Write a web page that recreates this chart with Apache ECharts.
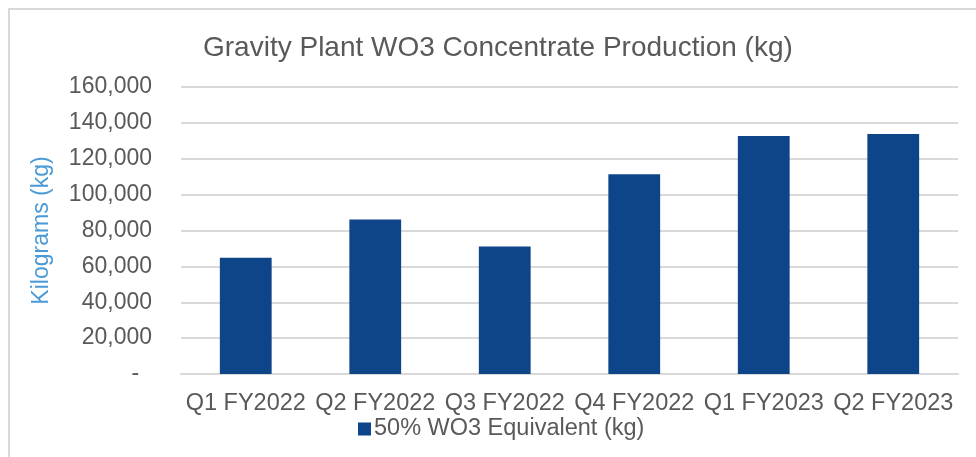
<!DOCTYPE html>
<html>
<head>
<meta charset="utf-8">
<script src="https://cdn.jsdelivr.net/npm/echarts@6/dist/echarts.min.js"></script>
<style>
html, body { margin: 0; padding: 0; background: #fff; }
#main { width: 976px; height: 457px; }
</style>
</head>
<body>
<div id="main"></div>
<script>
// 数据
var quarters = ['Q1 FY2022', 'Q2 FY2022', 'Q3 FY2022', 'Q4 FY2022', 'Q1 FY2023', 'Q2 FY2023'];
var wo3Equivalent = [64800, 86100, 71100, 111400, 132700, 133800];
var seriesName = '50% WO3 Equivalent (kg)';

var myChart = echarts.init(document.getElementById('main'));
var font = "'Liberation Sans', Arial, sans-serif";

var option = {
	animation: false,
	textStyle: { fontFamily: font },
	graphic: [{
		type: 'rect',
		shape: { x: 9, y: 9, width: 990, height: 480 },
		style: { fill: 'none', stroke: '#d9d9d9', lineWidth: 2 }
	}],
	title: {
		text: 'Gravity Plant WO3 Concentrate Production (kg)',
		left: 203,
		top: 34,
		padding: 0,
		textStyle: { fontFamily: font, fontSize: 28, fontWeight: 'normal', color: '#595959' }
	},
	legend: {
		data: [seriesName],
		bottom: 11,
		left: 353,
		icon: 'rect',
		itemWidth: 13,
		itemHeight: 13,
		itemGap: 4,
		textStyle: { fontFamily: font, fontSize: 23.5, color: '#595959', padding: [0, 0, 0, -2] }
	},
	grid: { left: 181, right: 18, top: 87, bottom: 83 },
	xAxis: {
		type: 'category',
		data: quarters,
		axisLine: { lineStyle: { color: '#d9d9d9', width: 2 } },
		axisTick: { show: false },
		axisLabel: { interval: 0, fontFamily: font, fontSize: 23.5, color: '#595959', margin: 18 }
	},
	yAxis: {
		type: 'value',
		min: 0,
		max: 160000,
		interval: 20000,
		name: 'Kilograms (kg)',
		nameLocation: 'middle',
		nameRotate: 90,
		nameGap: 128,
		nameTextStyle: { fontFamily: font, fontSize: 23, color: '#4a9ad6' },
		axisLine: { show: false },
		axisTick: { show: false },
		splitLine: { lineStyle: { color: '#d9d9d9', width: 2 } },
		axisLabel: {
			fontFamily: font,
			fontSize: 23,
			color: '#595959',
			margin: 29,
			formatter: function (v) {
				if (v === 0) return '-  ';
				return v.toLocaleString('en-US');
			}
		}
	},
	series: [{
		name: seriesName,
		type: 'bar',
		data: wo3Equivalent,
		barWidth: '40%',
		itemStyle: { color: '#0e4589' }
	}]
};

myChart.setOption(option);
</script>
</body>
</html>
